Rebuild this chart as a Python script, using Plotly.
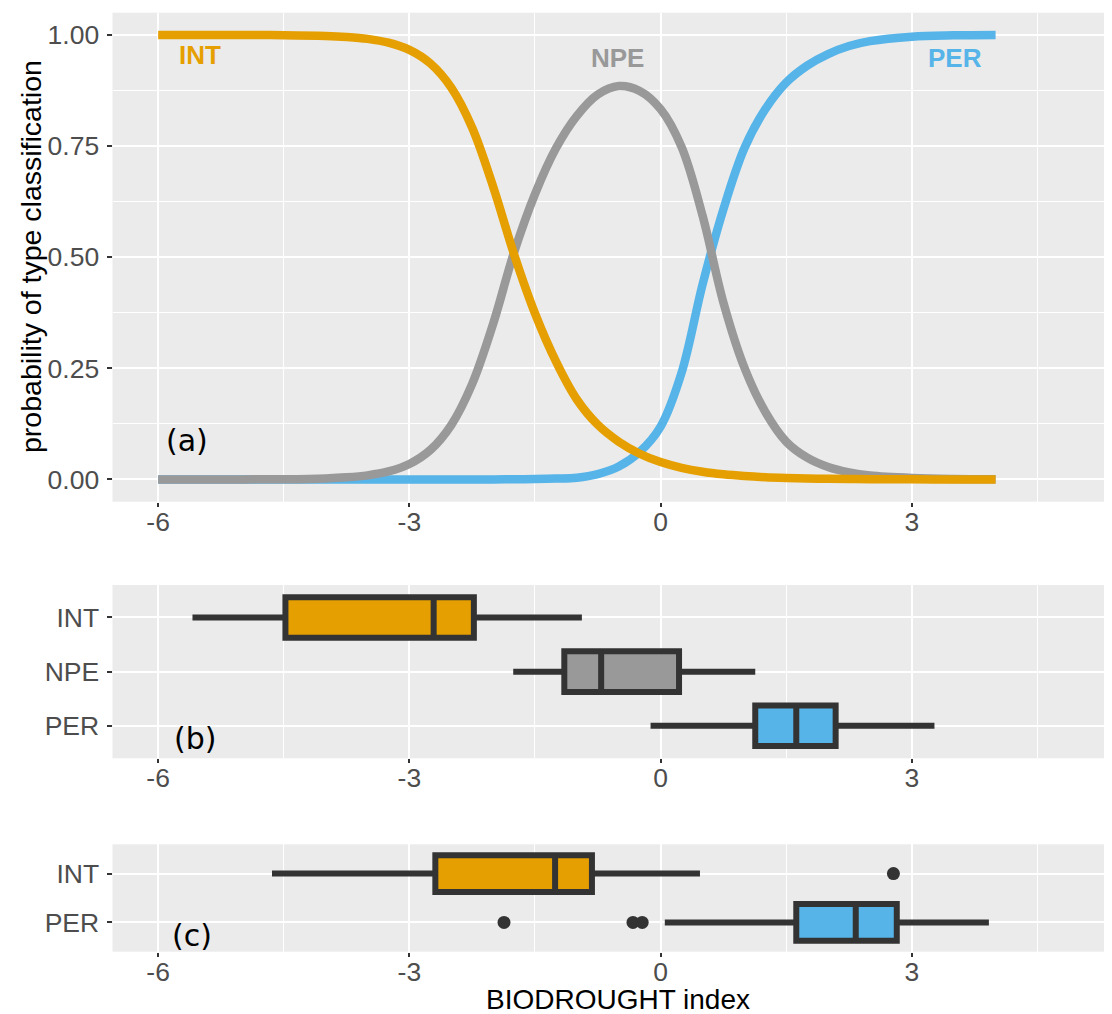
import plotly.graph_objects as go

# ---------------- data ----------------
# panel (a): probability of type classification vs BIODROUGHT index
x_grid = [-6, -5, -4.5, -4, -3.75, -3.5, -3.25, -3, -2.75, -2.5, -2.25, -2, -1.75, -1.5, -1.25,
          -1, -0.75, -0.5, -0.25, 0, 0.25, 0.5, 0.75, 1, 1.25, 1.5, 1.75, 2, 2.25, 2.5, 3, 3.5, 4]
p_int = [1.0, 0.9998, 0.9994, 0.9977, 0.9954, 0.9911, 0.9826, 0.9664, 0.936, 0.8816, 0.7913,
         0.6588, 0.5065, 0.3736, 0.2656, 0.1799, 0.1229, 0.085, 0.0579, 0.0391, 0.0262, 0.0175,
         0.0117, 0.0078, 0.0051, 0.0034, 0.0023, 0.0015, 0.001, 0.0007, 0.0003, 0.0001, 0.0]
p_npe = [0.0, 0.0002, 0.0006, 0.0024, 0.0048, 0.0093, 0.0181, 0.0349, 0.0663, 0.1224, 0.215,
         0.350, 0.511, 0.642, 0.745, 0.818, 0.866, 0.885, 0.874, 0.833, 0.748, 0.594,
         0.398, 0.252, 0.152, 0.085, 0.049, 0.028, 0.016, 0.009, 0.0035, 0.0012, 0.0004]
p_per = [0.0, 0.0, 0.0, 0.0, 0.0, 0.0, 0.0, 0.0, 0.0, 0.0, 0.0, 0.0, 0.0005, 0.001, 0.002,
         0.004, 0.012, 0.029, 0.062, 0.119, 0.240, 0.438, 0.608, 0.745, 0.833, 0.893, 0.931,
         0.957, 0.975, 0.986, 0.996, 0.999, 1.0]

colors = {"INT": "#E69F00", "NPE": "#999999", "PER": "#56B4E9"}

# panel (b): box statistics per type
b_types = ["INT", "NPE", "PER"]
b_low = [-5.59, -1.76, -0.12]
b_q1 = [-4.48, -1.15, 1.13]
b_med = [-2.71, -0.71, 1.62]
b_q3 = [-2.23, 0.22, 2.09]
b_high = [-0.94, 1.13, 3.27]

# panel (c): box statistics per type
c_types = ["INT", "PER"]
c_low = [-4.64, 0.05]
c_q1 = [-2.69, 1.62]
c_med = [-1.26, 2.33]
c_q3 = [-0.82, 2.82]
c_high = [0.47, 3.92]
c_out_x = [2.78, -1.87, -0.33, -0.22]
c_out_y = ["INT", "PER", "PER", "PER"]

x_ticks = [-6, -3, 0, 3]
y_ticks_a = [0, 0.25, 0.5, 0.75, 1.0]
y_ticklabels_a = ["0.00", "0.25", "0.50", "0.75", "1.00"]

# ---------------- figure ----------------
# the page body has an 8px margin, so the figure is laid out 8px smaller
OFF = 8
W, H = 1112 - OFF, 1014 - OFF
fig = go.Figure()

for t, ps in [("PER", p_per), ("NPE", p_npe), ("INT", p_int)]:
    fig.add_trace(go.Scatter(x=x_grid, y=ps, mode="lines", name=t,
                             line=dict(color=colors[t], width=8.5, shape="spline", smoothing=1.0),
                             xaxis="x", yaxis="y", showlegend=False, hoverinfo="skip"))

BOXLINE = "#333333"
for i, t in enumerate(b_types):
    fig.add_trace(go.Box(y=[t], q1=[b_q1[i]], median=[b_med[i]], q3=[b_q3[i]],
                         lowerfence=[b_low[i]], upperfence=[b_high[i]],
                         orientation="h", width=0.75, whiskerwidth=0, boxpoints=False,
                         fillcolor=colors[t], line=dict(color=BOXLINE, width=6),
                         xaxis="x2", yaxis="y2", showlegend=False, hoverinfo="skip"))

for i, t in enumerate(c_types):
    fig.add_trace(go.Box(y=[t], q1=[c_q1[i]], median=[c_med[i]], q3=[c_q3[i]],
                         lowerfence=[c_low[i]], upperfence=[c_high[i]],
                         orientation="h", width=0.75, whiskerwidth=0, boxpoints=False,
                         fillcolor=colors[t], line=dict(color=BOXLINE, width=6),
                         xaxis="x3", yaxis="y3", showlegend=False, hoverinfo="skip"))
fig.add_trace(go.Scatter(x=c_out_x, y=c_out_y, mode="markers",
                         marker=dict(color=BOXLINE, size=13),
                         xaxis="x3", yaxis="y3", showlegend=False, hoverinfo="skip"))

x_left_px = 112.5 - OFF
x_range = [-6.545, 5.39]
TICKFONT = dict(family="Liberation Sans, Arial, sans-serif", size=26.5, color="#4D4D4D")
GRID = "#FFFFFF"


def xaxis_cfg(anchor):
    return dict(domain=[x_left_px / W, 1.0], range=x_range, anchor=anchor, automargin=False,
                tickmode="array", tickvals=x_ticks, ticktext=[str(v) for v in x_ticks],
                showgrid=True, gridcolor=GRID, gridwidth=2,
                minor=dict(dtick=1.5, tick0=-4.5, showgrid=True, gridcolor=GRID, gridwidth=1, ticks=""),
                zeroline=False, showline=False, ticks="outside", ticklen=4, tickwidth=2,
                tickcolor="#333333", tickfont=TICKFONT, ticklabelstandoff=-8)


def ydom(top_px, bot_px):
    return [1 - (bot_px - OFF) / H, 1 - (top_px - OFF) / H]


YCOMMON = dict(showgrid=True, gridcolor=GRID, gridwidth=2, zeroline=False, showline=False,
               ticks="outside", ticklen=5, tickwidth=2, tickcolor="#333333", tickfont=TICKFONT,
               automargin=False, ticklabelstandoff=2)

fig.update_layout(
    width=W, height=H,
    margin=dict(l=0, r=0, t=0, b=0),
    paper_bgcolor="white", plot_bgcolor="#EBEBEB",
    xaxis=xaxis_cfg("y"),
    xaxis2=xaxis_cfg("y2"),
    xaxis3=xaxis_cfg("y3"),
    yaxis=dict(domain=ydom(12.7, 501.7), range=[-0.05, 1.05], anchor="x",
               tickmode="array", tickvals=y_ticks_a, ticktext=y_ticklabels_a,
               minor=dict(dtick=0.25, tick0=0.125, showgrid=True, gridcolor=GRID, gridwidth=1, ticks=""),
               **YCOMMON),
    yaxis2=dict(domain=ydom(585, 758.3), range=[-0.6, 2.6], anchor="x2", type="category",
                categoryorder="array", categoryarray=["PER", "NPE", "INT"], **YCOMMON),
    yaxis3=dict(domain=ydom(844.3, 951.7), range=[-0.6, 1.6], anchor="x3", type="category",
                categoryorder="array", categoryarray=["PER", "INT"], **YCOMMON),
)

LABFONT = "Liberation Sans, Arial, sans-serif"
ann = []
for t, x, y in [("INT", -5.5, 0.955), ("NPE", -0.51, 0.948), ("PER", 3.51, 0.948)]:
    ann.append(dict(text="<b>%s</b>" % t, x=x, y=y, xref="x", yref="y", showarrow=False,
                    xanchor="center", yanchor="middle",
                    font=dict(family=LABFONT, size=26, color=colors[t])))
PANELFONT = dict(family="DejaVu Sans, sans-serif", size=30, color="black")
for txt, x, y, xr, yr in [("(a)", -5.65, 0.088, "x", "y"), ("(b)", -5.56, -0.23, "x2", "y2"),
                          ("(c)", -5.59, -0.27, "x3", "y3")]:
    ann.append(dict(text=txt, x=x, y=y, xref=xr, yref=yr, showarrow=False,
                    xanchor="center", yanchor="middle", font=PANELFONT))
ann.append(dict(text="probability of type classification", x=(31 - OFF) / W, y=1 - (257 - OFF) / H,
                xref="paper", yref="paper", showarrow=False, textangle=-90,
                xanchor="center", yanchor="middle",
                font=dict(family=LABFONT, size=28.5, color="black")))
ann.append(dict(text="BIODROUGHT index", x=(618 - OFF) / W, y=1 - (999 - OFF) / H,
                xref="paper", yref="paper", showarrow=False,
                xanchor="center", yanchor="middle",
                font=dict(family=LABFONT, size=28, color="black")))
fig.update_layout(annotations=ann)

fig.write_html("out.html")
